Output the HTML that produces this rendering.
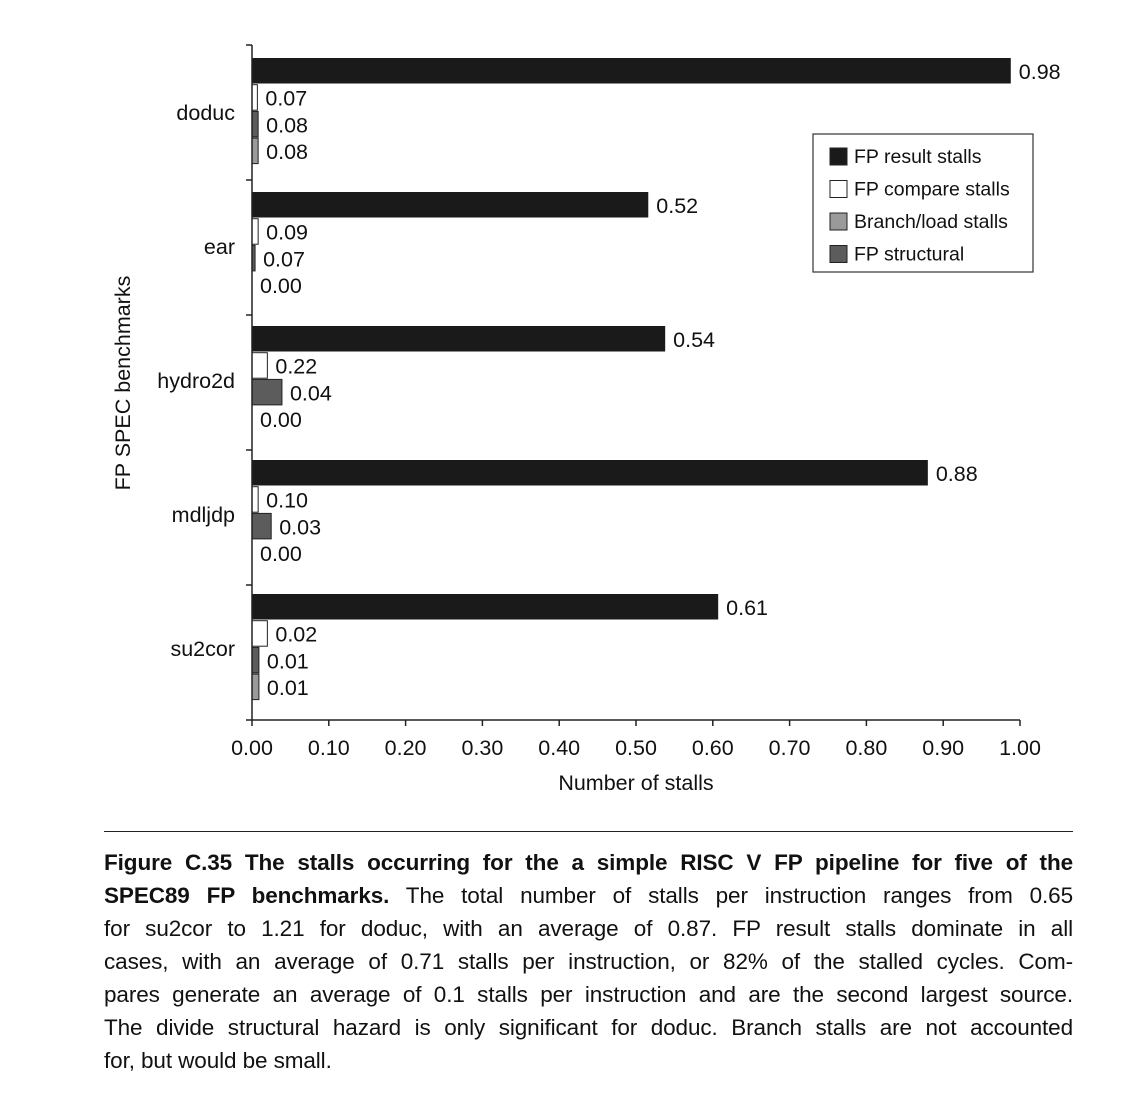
<!DOCTYPE html>
<html><head><meta charset="utf-8"><style>
body{margin:0;background:#fff;width:1124px;height:1098px;overflow:hidden;font-family:"Liberation Sans",sans-serif}
#cap{position:absolute;left:104px;top:846px;width:969px;font-size:22.5px;color:#111}
#cap div{height:33px;line-height:33px;text-align:justify;text-align-last:justify;white-space:nowrap;letter-spacing:-0.1px}
#cap div.last{text-align-last:left}
</style></head><body>
<svg id="chart" width="1124" height="830" style="position:absolute;left:0;top:0" font-family="Liberation Sans, sans-serif"></svg>
<div id="rule" style="position:absolute;left:104px;top:831px;width:969px;height:1px;background:#222"></div>
<div id="cap">
<div><b>Figure C.35 The stalls occurring for the a simple RISC V FP pipeline for five of the</b></div>
<div><b>SPEC89 FP benchmarks.</b> The total number of stalls per instruction ranges from 0.65</div>
<div>for su2cor to 1.21 for doduc, with an average of 0.87. FP result stalls dominate in all</div>
<div>cases, with an average of 0.71 stalls per instruction, or 82% of the stalled cycles. Com-</div>
<div>pares generate an average of 0.1 stalls per instruction and are the second largest source.</div>
<div>The divide structural hazard is only significant for doduc. Branch stalls are not accounted</div>
<div class="last">for, but would be small.</div>
</div>
<script>
const categories=["doduc","ear","hydro2d","mdljdp","su2cor"];
const seriesNames=["FP result stalls","FP compare stalls","FP structural","Branch/load stalls"];
const resultVals=[0.988,0.516,0.538,0.88,0.607];
const compareVals=[0.007,0.008,0.02,0.008,0.02];
const structVals=[0.008,0.004,0.039,0.025,0.009];
const branchVals=[0.008,0,0,0,0.009];
const resultLabels=["0.98","0.52","0.54","0.88","0.61"];
const compareLabels=["0.07","0.09","0.22","0.10","0.02"];
const structLabels=["0.08","0.07","0.04","0.03","0.01"];
const branchLabels=["0.08","0.00","0.00","0.00","0.01"];
const xTicks=[0,0.1,0.2,0.3,0.4,0.5,0.6,0.7,0.8,0.9,1.0];
const xTickLabels=["0.00","0.10","0.20","0.30","0.40","0.50","0.60","0.70","0.80","0.90","1.00"];

const svg=document.getElementById('chart');
const NS="http://www.w3.org/2000/svg";
const X0=252,X1=1020,Ytop=45,Ybot=720;
const x=v=>X0+v*(X1-X0);
const groupTop=i=>58+i*134;
function mk(t,a){const e=document.createElementNS(NS,t);for(const k in a)e.setAttribute(k,a[k]);svg.appendChild(e);return e;}
const colors=["#1a1a1a","#ffffff","#5c5c5c","#9a9a9a"];
const vals=[resultVals,compareVals,structVals,branchVals];
const labs=[resultLabels,compareLabels,structLabels,branchLabels];
const names=["result","compare","structural","branch"];
categories.forEach((c,i)=>{
  const g0=groupTop(i);
  for(let s=0;s<4;s++){
    const y=g0+s*26.7, v=vals[s][i];
    if(v>0){
      const r=mk('rect',{x:x(0),y:y,width:x(v)-x(0),height:25.5,fill:colors[s],stroke:s===0?'none':'#222','stroke-width':1});
      
      
    }
    const t=mk('text',{x:x(v)+8,y:y+21,'font-size':21.5,fill:'#111'});
    t.textContent=labs[s][i];
    
    
  }
  const ct=mk('text',{x:235,y:g0+62,'font-size':21.5,'text-anchor':'end',fill:'#111'});
  ct.textContent=c;
  
  
});
const ya=mk('line',{x1:X0,y1:Ytop,x2:X0,y2:Ybot,stroke:'#222','stroke-width':1.5});


for(let i=0;i<=5;i++){const yy=Ytop+i*135;mk('line',{x1:X0-6,y1:yy,x2:X0,y2:yy,stroke:'#222','stroke-width':1.5});}
const xa=mk('line',{x1:X0,y1:Ybot,x2:X1,y2:Ybot,stroke:'#222','stroke-width':1.5});


xTicks.forEach((v,i)=>{
  mk('line',{x1:x(v),y1:Ybot,x2:x(v),y2:Ybot+6,stroke:'#222','stroke-width':1.5});
  const t=mk('text',{x:x(v),y:755,'font-size':21.5,'text-anchor':'middle',fill:'#111'});
  t.textContent=xTickLabels[i];
  
  
});
const xt=mk('text',{x:636,y:790,'font-size':21.5,'text-anchor':'middle',fill:'#111'});
xt.textContent="Number of stalls";


const yt=mk('text',{x:0,y:0,'font-size':21.5,'text-anchor':'middle',fill:'#111',transform:'translate(130,383) rotate(-90)'});
yt.textContent="FP SPEC benchmarks";


const lb=mk('rect',{x:813,y:134,width:220,height:138,fill:'#fff',stroke:'#333','stroke-width':1.2});


const legOrder=[0,1,3,2];
legOrder.forEach((s,k)=>{
  const yy=148+k*32.5;
  mk('rect',{x:830,y:yy,width:17,height:17,fill:colors[s],stroke:'#222','stroke-width':1});
  const t=mk('text',{x:854,y:yy+15,'font-size':19.5,fill:'#111'});
  t.textContent=seriesNames[s];
  
  
});
</script>
</body></html>
